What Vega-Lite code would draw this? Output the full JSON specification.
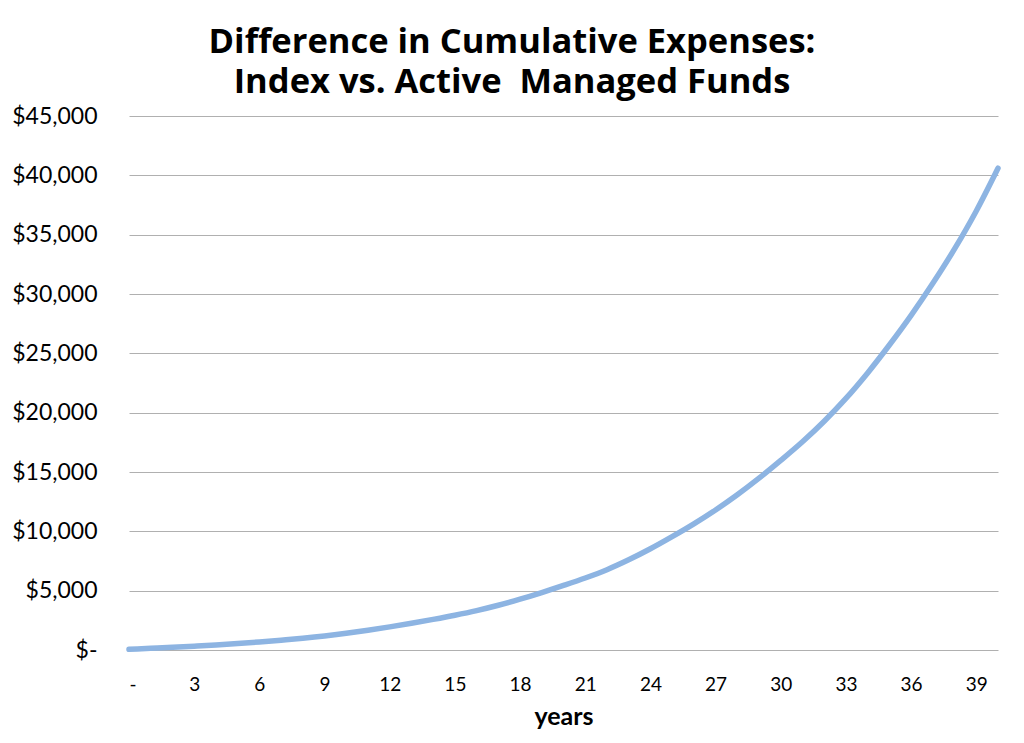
{
  "$schema": "https://vega.github.io/schema/vega-lite/v6.json",
  "width": 869,
  "height": 534,
  "autosize": {"type": "none"},
  "padding": {"left": 129, "top": 116, "right": 26, "bottom": 93},
  "background": "white",
  "title": {
    "text": ["Difference in Cumulative Expenses:", "Index vs. Active\u00a0 Managed Funds"],
    "font": "Open Sans",
    "fontSize": 34.5,
    "fontWeight": "bold",
    "color": "black",
    "anchor": "middle",
    "frame": "group",
    "dx": -51.5,
    "offset": 5,
    "lineHeight": 40
  },
  "config": {
    "view": {"stroke": null},
    "axis": {"labelFont": "Lato", "titleFont": "Lato", "labelColor": "#000000", "titleColor": "#000000"}
  },
  "data": {
    "values": [
      {"year": 0, "value": 60},
      {"year": 1, "value": 140},
      {"year": 2, "value": 225},
      {"year": 3, "value": 320},
      {"year": 4, "value": 425},
      {"year": 5, "value": 545},
      {"year": 6, "value": 680},
      {"year": 7, "value": 830},
      {"year": 8, "value": 990},
      {"year": 9, "value": 1180},
      {"year": 10, "value": 1410},
      {"year": 11, "value": 1670},
      {"year": 12, "value": 1950},
      {"year": 13, "value": 2250},
      {"year": 14, "value": 2580},
      {"year": 15, "value": 2930},
      {"year": 16, "value": 3320},
      {"year": 17, "value": 3770},
      {"year": 18, "value": 4280},
      {"year": 19, "value": 4840},
      {"year": 20, "value": 5440},
      {"year": 21, "value": 6070},
      {"year": 22, "value": 6770},
      {"year": 23, "value": 7600},
      {"year": 24, "value": 8530},
      {"year": 25, "value": 9550},
      {"year": 26, "value": 10630},
      {"year": 27, "value": 11800},
      {"year": 28, "value": 13080},
      {"year": 29, "value": 14480},
      {"year": 30, "value": 15980},
      {"year": 31, "value": 17550},
      {"year": 32, "value": 19280},
      {"year": 33, "value": 21200},
      {"year": 34, "value": 23350},
      {"year": 35, "value": 25700},
      {"year": 36, "value": 28200},
      {"year": 37, "value": 30900},
      {"year": 38, "value": 33800},
      {"year": 39, "value": 37000},
      {"year": 40, "value": 40600}
    ]
  },
  "mark": {"type": "line", "color": "#8db4e2", "strokeWidth": 5.5, "strokeCap": "round", "interpolate": "monotone"},
  "encoding": {
    "x": {
      "field": "year",
      "type": "quantitative",
      "scale": {"domain": [0, 40], "nice": false, "zero": false},
      "axis": {
        "values": [0, 3, 6, 9, 12, 15, 18, 21, 24, 27, 30, 33, 36, 39],
        "labelExpr": "datum.value == 0 ? '-' : datum.label",
        "labelFontSize": 19,
        "labelPadding": 25,
        "ticks": false,
        "domain": false,
        "grid": false,
        "title": "years",
        "titleFontSize": 25,
        "titleFontWeight": "bold",
        "titlePadding": 10
      }
    },
    "y": {
      "field": "value",
      "type": "quantitative",
      "scale": {"domain": [0, 45000], "nice": false},
      "axis": {
        "values": [0, 5000, 10000, 15000, 20000, 25000, 30000, 35000, 40000, 45000],
        "labelExpr": "datum.value == 0 ? '$-' : '$' + format(datum.value, ',')",
        "labelFontSize": 23,
        "labelPadding": 32,
        "ticks": false,
        "domain": false,
        "grid": true,
        "gridColor": "#b0b0b0",
        "gridWidth": 1,
        "title": null
      }
    }
  }
}
